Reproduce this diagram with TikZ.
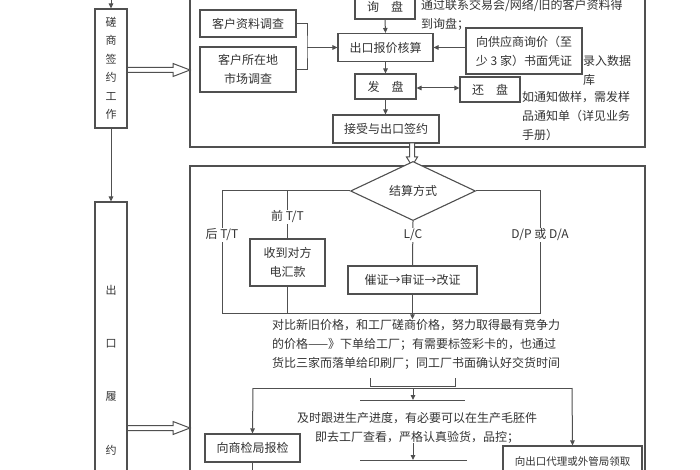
\documentclass[tikz,border=0pt]{standalone}
\usepackage{fontspec}
\setmainfont{Noto Sans CJK SC}
\usepackage{xcolor}
\usepackage{tikz}
\usetikzlibrary{calc,arrows.meta,positioning,shapes.geometric}
\definecolor{linec}{HTML}{505050}
\definecolor{textc}{HTML}{333333}
\tikzset{
  ar/.style={-{Triangle[length=5pt,width=4.5pt]},line width=1pt,linec},
  dar/.style={{Triangle[length=5pt,width=4.5pt]}-{Triangle[length=5pt,width=4.5pt]},line width=1pt,linec},
  ln/.style={line width=1pt,linec},
  box/.style={draw=linec,line width=1.1pt,fill=white,align=center,inner sep=1pt,text=textc,font=\fontsize{12}{19}\selectfont},
  frm/.style={draw=linec,line width=1.1pt,inner sep=0pt},
  blk/.style={draw=linec,line width=1pt,fill=white,line join=miter},
  dia/.style={diamond,draw=linec,line width=1.1pt,fill=white,inner sep=0pt,text=textc,font=\fontsize{12}{14}\selectfont},
  txt/.style={text=textc,inner sep=0pt,align=left,font=\fontsize{12}{19}\selectfont},
  lbl/.style={text=textc,fill=white,inner sep=1pt,font=\fontsize{12}{14}\selectfont}
}

\begin{document}
\begin{tikzpicture}[x=1pt,y=-1pt]
\useasboundingbox (0,0) rectangle (700,470);
\clip (0,0) rectangle (700,470);

% left column
\node[frm,minimum width=455pt,minimum height=167pt] (fr1) at (417.5,63.5) {};
\node[frm,minimum width=455pt,minimum height=534pt] (fr2) at (417.5,433) {};
\draw[blk] (127,67.5) -- ++(46,0) -- ++(0,-4) -- ++(17,6.5) -- ++(-17,6.5) -- ++(0,-4) -- ++(-46,0) -- cycle;
\draw[blk] (127,425.5) -- ++(46,0) -- ++(0,-4) -- ++(17,6.5) -- ++(-17,6.5) -- ++(0,-4) -- ++(-46,0) -- cycle;
\node[box,minimum width=32pt,minimum height=119pt,font=\fontsize{11}{18.5}\selectfont] (neg) at (111,68.5) {磋\\商\\签\\约\\工\\作};
\node[box,minimum width=32pt,minimum height=336pt,font=\fontsize{11}{53.3}\selectfont] (perf) at (111,370) {出\\口\\履\\约};
\coordinate (negin) at (111,-10);
\draw[ar] (negin) -- (neg.north);
\draw[ar] (neg.south) -- (perf.north);

% signing frame
\node[box,minimum width=96pt,minimum height=27pt] (cust) at (248,23.5) {客户资料调查};
\node[box,minimum width=96pt,minimum height=45pt] (mkt) at (248,69.5) {客户所在地\\市场调查};
\node[box,minimum width=60pt,minimum height=24pt] (inq) at (385,7) {询\hspace{12pt}盘};
\node[box,minimum width=95pt,minimum height=28pt] (quote) at (385.5,47.5) {出口报价核算};
\node[txt,anchor=west] (note2) at (583,70) {录入数据\\库};
\node[box,minimum width=116pt,minimum height=46pt] (supp) at (524,51) {向供应商询价（至\\少 3 家）书面凭证};
\node[box,minimum width=61pt,minimum height=25pt] (offer) at (385.5,86.5) {发\hspace{12pt}盘};
\node[box,minimum width=60pt,minimum height=25pt] (counter) at (490,89.5) {还\hspace{12pt}盘};
\node[box,minimum width=106pt,minimum height=28pt] (accept) at (386,129) {接受与出口签约};
\node[txt,anchor=west] (note1) at (421,14.5) {通过联系交易会/网络/旧的客户资料得\\到询盘；};
\node[txt,anchor=west] (note3) at (522,116) {如通知做样，需发样\\品通知单（详见业务\\手册）};
\coordinate (brace) at (307,47.5);
\draw[ln] (cust.east) -| (brace) |- (mkt.east);
\draw[ar] (brace) -- (quote.west);
\draw[ar] (inq.south) -- (quote.north);
\draw[ar] (supp.west |- quote.east) -- (quote.east);
\draw[ar] (quote.south) -- (offer.north);
\draw[dar] (offer.east |- 0,88) -- (counter.west |- 0,88);
\draw[ar] (offer.south) -- (offer.south |- accept.north);
\draw[blk] (409.5,143) -- ++(0,14) -- ++(-3,0) -- ++(5.5,9) -- ++(5.5,-9) -- ++(-3,0) -- ++(0,-14) -- cycle;

% payment frame
\node[dia,minimum width=125pt,minimum height=41pt] (settle) at (413,191) {结算方式};
\node[box,minimum width=75pt,minimum height=47pt] (ttbox) at (287.5,262.5) {收到对方\\电汇款};
\node[box,minimum width=129pt,minimum height=28pt] (lcbox) at (412.5,280) {催证→审证→改证};
\coordinate (lt) at (222,191);
\coordinate (lb) at (222,313);
\coordinate (rb) at (540,313);
\coordinate (rt) at (540,191);
\draw[ln] (settle.west) -- (lt) -- (lb) -- (rb) -- (rt) -- (settle.east);
\draw[ln] (ttbox.north |- lt) -- (ttbox.north);
\draw[ln] (ttbox.south) -- (ttbox.south |- lb);
\draw[ln] (settle.south) -- (lcbox.north);
\node[lbl] (post) at (222,235) {后 T/T};
\node[lbl] (pre) at (287.5,217) {前 T/T};
\node[lbl] (lc) at (413,235) {L/C};
\node[lbl] (dpda) at (540,235) {D/P 或 D/A};

% production
\node[txt] (cmp) at (416,344.5) {对比新旧价格，和工厂磋商价格，努力取得最有竞争力\\的价格——》下单给工厂；有需要标签彩卡的，也通过\\货比三家而落单给印刷厂；同工厂书面确认好交货时间};
\draw[ar] (lcbox.south) -- (lcbox.south |- cmp.north);
\draw[ln] (370,378) -- (370,386) -- (455,386) -- (455,378);
\coordinate (sl) at (253,388);
\coordinate (sm) at (413,388);
\coordinate (sr) at (572,388);
\coordinate (d1l) at (360,400);
\coordinate (d1r) at (465,400);
\coordinate (d2l) at (360,460);
\coordinate (d2r) at (467,460);
\draw[ln] (sl) -- (sr);
\draw[ln] (d1l) -- (d1r);
\draw[ln] (d2l) -- (d2r);
\draw[ar] (sm) -- (sm |- d1l);
\node[txt,align=center] (prod) at (417,427.5) {及时跟进生产进度，有必要可以在生产毛胚件\\即去工厂查看，严格认真验货，品控；};
\draw[ar] (prod.south -| sm) -- (sm |- d2l);
\node[txt,align=center] (ship) at (416,477) {运输、装运委托运货};
\node[box,minimum width=95pt,minimum height=28pt] (insp) at (252.5,448) {向商检局报检};
\node[box,minimum width=139pt,minimum height=32pt,font=\fontsize{10.5}{14}\selectfont] (agent) at (572.5,462) {向出口代理或外管局领取};
\coordinate (inspend) at (252.5,490);
\draw[ar] (sl) -- (insp.north);
\draw[ar] (sr) -- (agent.north);
\draw[ln] (insp.south) -- (inspend);
\end{tikzpicture}
\end{document}
